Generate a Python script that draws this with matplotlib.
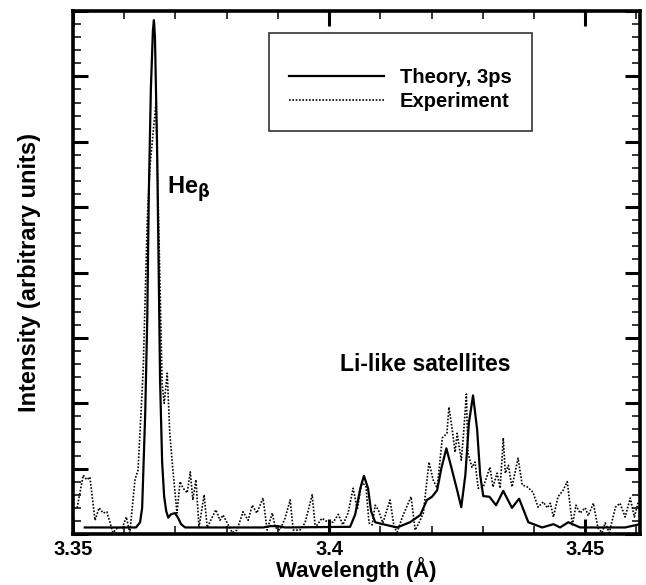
import matplotlib
matplotlib.use("Agg")
import matplotlib.pyplot as plt
from matplotlib.ticker import MultipleLocator, NullFormatter, FixedFormatter, FixedLocator

# theory spectrum (3 ps)
wl_theory = [3.3523, 3.3623, 3.3631, 3.3635, 3.3641, 3.3645, 3.3648, 3.3652, 3.3656, 3.3658,
             3.3660, 3.3664, 3.3668, 3.3670, 3.3674, 3.3678, 3.3682, 3.3686, 3.3691, 3.3699,
             3.3705, 3.3711, 3.3719, 3.3871, 3.3885, 3.3900, 3.3914, 3.4041, 3.4051, 3.4061,
             3.4068, 3.4076, 3.4082, 3.4090, 3.4105, 3.4133, 3.4158, 3.4178, 3.4191, 3.4201,
             3.4211, 3.4219, 3.4229, 3.4236, 3.4250, 3.4258, 3.4266, 3.4273, 3.4281, 3.4289,
             3.4295, 3.4301, 3.4313, 3.4326, 3.4340, 3.4357, 3.4371, 3.4389, 3.4416, 3.4438,
             3.4451, 3.4467, 3.4490, 3.4578, 3.4607]
int_theory = [0.10, 0.10, 0.18, 0.40, 1.85, 3.30, 5.20, 6.80, 7.70, 7.86,
              7.60, 6.00, 3.60, 2.35, 1.10, 0.57, 0.35, 0.25, 0.30, 0.32,
              0.25, 0.15, 0.10, 0.10, 0.12, 0.12, 0.10, 0.11, 0.30, 0.70,
              0.89, 0.70, 0.35, 0.18, 0.15, 0.10, 0.18, 0.29, 0.52, 0.57,
              0.67, 1.00, 1.31, 1.10, 0.67, 0.41, 0.90, 1.70, 2.12, 1.60,
              0.90, 0.58, 0.57, 0.44, 0.66, 0.40, 0.54, 0.18, 0.10, 0.15,
              0.10, 0.18, 0.10, 0.10, 0.15]

# measured spectrum
wl_exp = [3.3508, 3.3520, 3.3527, 3.3533, 3.3543, 3.3551, 3.3559, 3.3566, 3.3572, 3.3578,
          3.3588, 3.3596, 3.3604, 3.3611, 3.3621, 3.3627, 3.3637, 3.3645, 3.3650, 3.3656,
          3.3662, 3.3668, 3.3674, 3.3678, 3.3684, 3.3689, 3.3695, 3.3703, 3.3709, 3.3715,
          3.3723, 3.3729, 3.3734, 3.3740, 3.3746, 3.3756, 3.3762, 3.3779, 3.3787, 3.3793,
          3.3803, 3.3811, 3.3820, 3.3832, 3.3842, 3.3850, 3.3859, 3.3871, 3.3879, 3.3889,
          3.3895, 3.3904, 3.3914, 3.3924, 3.3930, 3.3943, 3.3953, 3.3967, 3.3973, 3.3986,
          3.3998, 3.4008, 3.4018, 3.4027, 3.4037, 3.4047, 3.4055, 3.4064, 3.4072, 3.4078,
          3.4084, 3.4090, 3.4096, 3.4105, 3.4119, 3.4127, 3.4133, 3.4143, 3.4160, 3.4168,
          3.4176, 3.4184, 3.4195, 3.4203, 3.4211, 3.4221, 3.4230, 3.4234, 3.4240, 3.4246,
          3.4250, 3.4258, 3.4262, 3.4268, 3.4271, 3.4279, 3.4285, 3.4291, 3.4301, 3.4314,
          3.4320, 3.4328, 3.4334, 3.4340, 3.4344, 3.4350, 3.4357, 3.4369, 3.4377, 3.4387,
          3.4398, 3.4408, 3.4418, 3.4426, 3.4432, 3.4438, 3.4447, 3.4457, 3.4465, 3.4475,
          3.4482, 3.4490, 3.4500, 3.4506, 3.4516, 3.4525, 3.4533, 3.4539, 3.4547, 3.4559,
          3.4568, 3.4578, 3.4588, 3.4596, 3.4603, 3.4613]
int_exp = [0.40, 0.90, 0.83, 0.87, 0.21, 0.40, 0.32, 0.34, 0.18, 0.02,
           0.10, 0.09, 0.26, 0.02, 0.83, 0.98, 2.50, 4.80, 5.60, 6.10,
           6.60, 4.50, 2.30, 2.00, 2.46, 1.54, 0.98, 0.32, 0.80, 0.70,
           0.63, 0.95, 0.52, 0.83, 0.10, 0.60, 0.10, 0.37, 0.21, 0.29,
           0.14, 0.02, 0.06, 0.34, 0.21, 0.44, 0.32, 0.55, 0.06, 0.32,
           0.10, 0.06, 0.24, 0.52, 0.06, 0.06, 0.17, 0.60, 0.10, 0.24,
           0.18, 0.18, 0.30, 0.14, 0.32, 0.70, 0.37, 0.80, 0.72, 0.17,
           0.14, 0.44, 0.37, 0.17, 0.52, 0.10, 0.03, 0.26, 0.57, 0.06,
           0.18, 0.32, 1.10, 0.83, 0.70, 1.47, 1.54, 1.94, 1.62, 1.25,
           1.54, 1.13, 1.48, 2.14, 1.24, 1.02, 1.10, 0.70, 0.72, 1.02,
           0.72, 0.93, 0.70, 1.47, 0.93, 1.05, 0.72, 1.16, 0.75, 0.72,
           0.64, 0.41, 0.49, 0.40, 0.47, 0.26, 0.57, 0.67, 0.80, 0.14,
           0.44, 0.32, 0.40, 0.28, 0.47, 0.09, 0.02, 0.17, 0.02, 0.41,
           0.47, 0.26, 0.55, 0.26, 0.47, 0.32]

xticks = [3.35, 3.40, 3.45]
xticklabels = ["3.35", "3.4", "3.45"]

plt.rcParams['font.family'] = ['Liberation Sans', 'DejaVu Sans']
plt.rcParams['font.weight'] = 'bold'

fig = plt.figure(figsize=(6.46, 5.85), dpi=100)
ax = fig.add_axes([73/646, 51/585, 567/646, 523/585])

ax.plot(wl_theory, int_theory, color='k', lw=1.6, label='Theory, 3ps', zorder=3)
ax.plot(wl_exp, int_exp, color='k', lw=1.2, ls=(0, (1, 1)), label='Experiment', zorder=2)

ax.set_xlim(3.35, 3.4607)
ax.set_ylim(0, 8)

ax.xaxis.set_major_locator(FixedLocator(xticks))
ax.xaxis.set_major_formatter(FixedFormatter(xticklabels))
ax.xaxis.set_minor_locator(MultipleLocator(0.01))
ax.yaxis.set_major_locator(MultipleLocator(1))
ax.yaxis.set_minor_locator(MultipleLocator(0.2))
ax.yaxis.set_major_formatter(NullFormatter())

ax.tick_params(which='both', direction='in', top=True, right=True)
ax.tick_params(which='major', length=10.5, width=2.2, labelsize=14.5, pad=4)
ax.tick_params(which='minor', length=5.5, width=1.1)
for s in ax.spines.values():
    s.set_linewidth(2.6)

ax.set_xlabel("Wavelength (Å)", fontsize=16, fontweight='bold', labelpad=-1)
ax.set_ylabel("Intensity (arbitrary units)", fontsize=17, fontweight='bold', labelpad=19)

ax.text(3.3684, 5.2, r"He$_{\mathbf{\beta}}$", fontsize=17, fontweight='bold', va='baseline')
ax.text(3.4021, 2.5, "Li-like satellites", fontsize=16.5, fontweight='bold', va='baseline')

leg = ax.legend(loc='upper left', bbox_to_anchor=(196/567, 1 - 22/523), frameon=True,
                fancybox=False, edgecolor='k', fontsize=14.5, handlelength=4.7,
                handletextpad=0.8, labelspacing=0.25, borderpad=1.0, borderaxespad=0,
                title=' ', title_fontsize=7)
leg.get_frame().set_linewidth(1.2)
for t in leg.get_texts():
    t.set_fontweight('bold')

fig.savefig("out.png", dpi=100)
